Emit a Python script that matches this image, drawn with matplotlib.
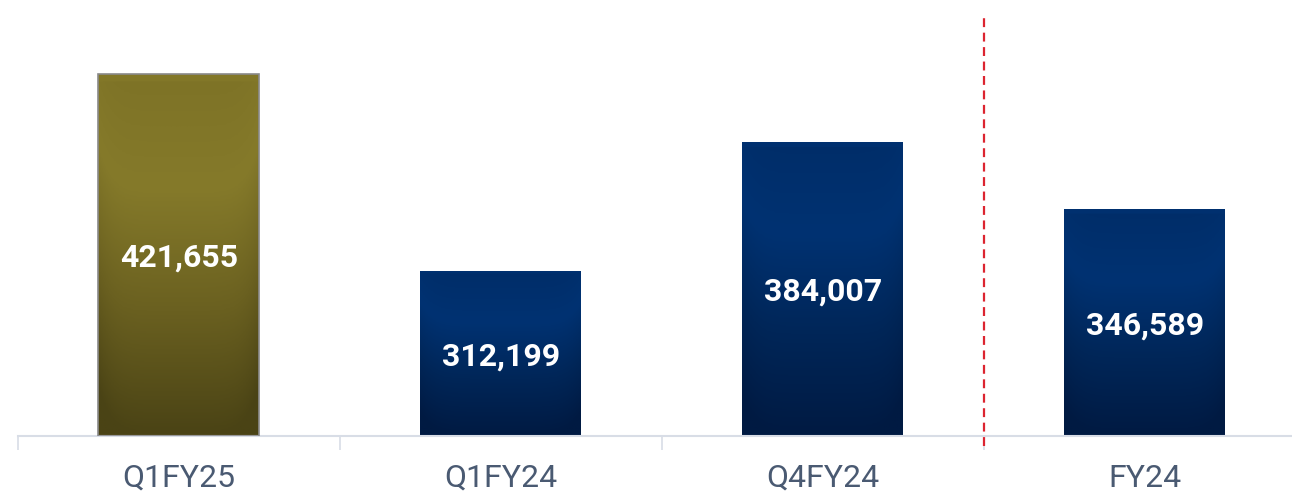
import numpy as np
import matplotlib
matplotlib.use("Agg")
import matplotlib.pyplot as plt
from matplotlib.colors import LinearSegmentedColormap
from matplotlib.lines import Line2D

categories = ["Q1FY25", "Q1FY24", "Q4FY24", "FY24"]
values = [421655, 312199, 384007, 346589]
labels = ["421,655", "312,199", "384,007", "346,589"]

W, H = 1292, 494
fig = plt.figure(figsize=(W / 100, H / 100), dpi=100)
ax = fig.add_axes([18 / W, 58 / H, 1288 / W, 422 / H])
ax.set_xlim(-0.5, 3.5)
ax.set_ylim(220500, 455000)

olive = LinearSegmentedColormap.from_list("olive", ["#4a4315", "#6a6020", "#857a2a", "#7d7226"])
blue = LinearSegmentedColormap.from_list("blue", ["#001a42", "#002658", "#003272", "#002d68"])

bw = 0.5
for i, v in enumerate(values):
    cmap = olive if i == 0 else blue
    ys = np.linspace(0, 1, 200)
    xs = np.linspace(-1, 1, 100)
    grad = np.clip(ys[:, None] * 0.97 - 0.12 * np.abs(xs[None, :]) ** 6, 0, 1)
    top = ys[:, None] > 0.98
    grad = np.where(top, 0.75, grad)
    ext = (i - bw / 2, i + bw / 2, 220500, v)
    im = ax.imshow(grad, cmap=cmap, extent=ext, origin="lower", aspect="auto", zorder=2, vmin=0, vmax=1)
    rect = plt.Rectangle((i - bw / 2, 220500), bw, v - 220500, facecolor="none",
                         edgecolor="#8a8a8a" if i == 0 else "none", lw=1.2, zorder=3)
    ax.add_patch(rect)
    im.set_clip_path(rect)
    ax.text(i, 220500 + (v - 220500) / 2, labels[i], ha="center", va="center_baseline",
            color="white", fontsize=23, fontweight="bold", family="Roboto", zorder=4)

ax.set_xticks([0, 1, 2, 3])
ax.set_xticklabels(categories, family="Roboto", fontsize=23, color="#4a5a72")
ax.set_xticks([-0.5, 0.5, 1.5, 2.5, 3.5], minor=True)
ax.tick_params(axis="x", which="major", length=0, pad=20)
ax.tick_params(axis="x", which="minor", length=10, color="#d8dde6", width=1.2)
ax.set_yticks([])
for s in ["top", "right", "left"]:
    ax.spines[s].set_visible(False)
ax.spines["bottom"].set_color("#d8dde6")
ax.spines["bottom"].set_linewidth(1.5)
ax.set_facecolor("none")

ax.add_line(Line2D([2.5, 2.5], [-0.024, 1.0], transform=ax.get_xaxis_transform(),
                   color="#dc2430", lw=1.6, ls=(0, (4, 2.5)), clip_on=False, zorder=5))

fig.savefig("out.png", dpi=100)
